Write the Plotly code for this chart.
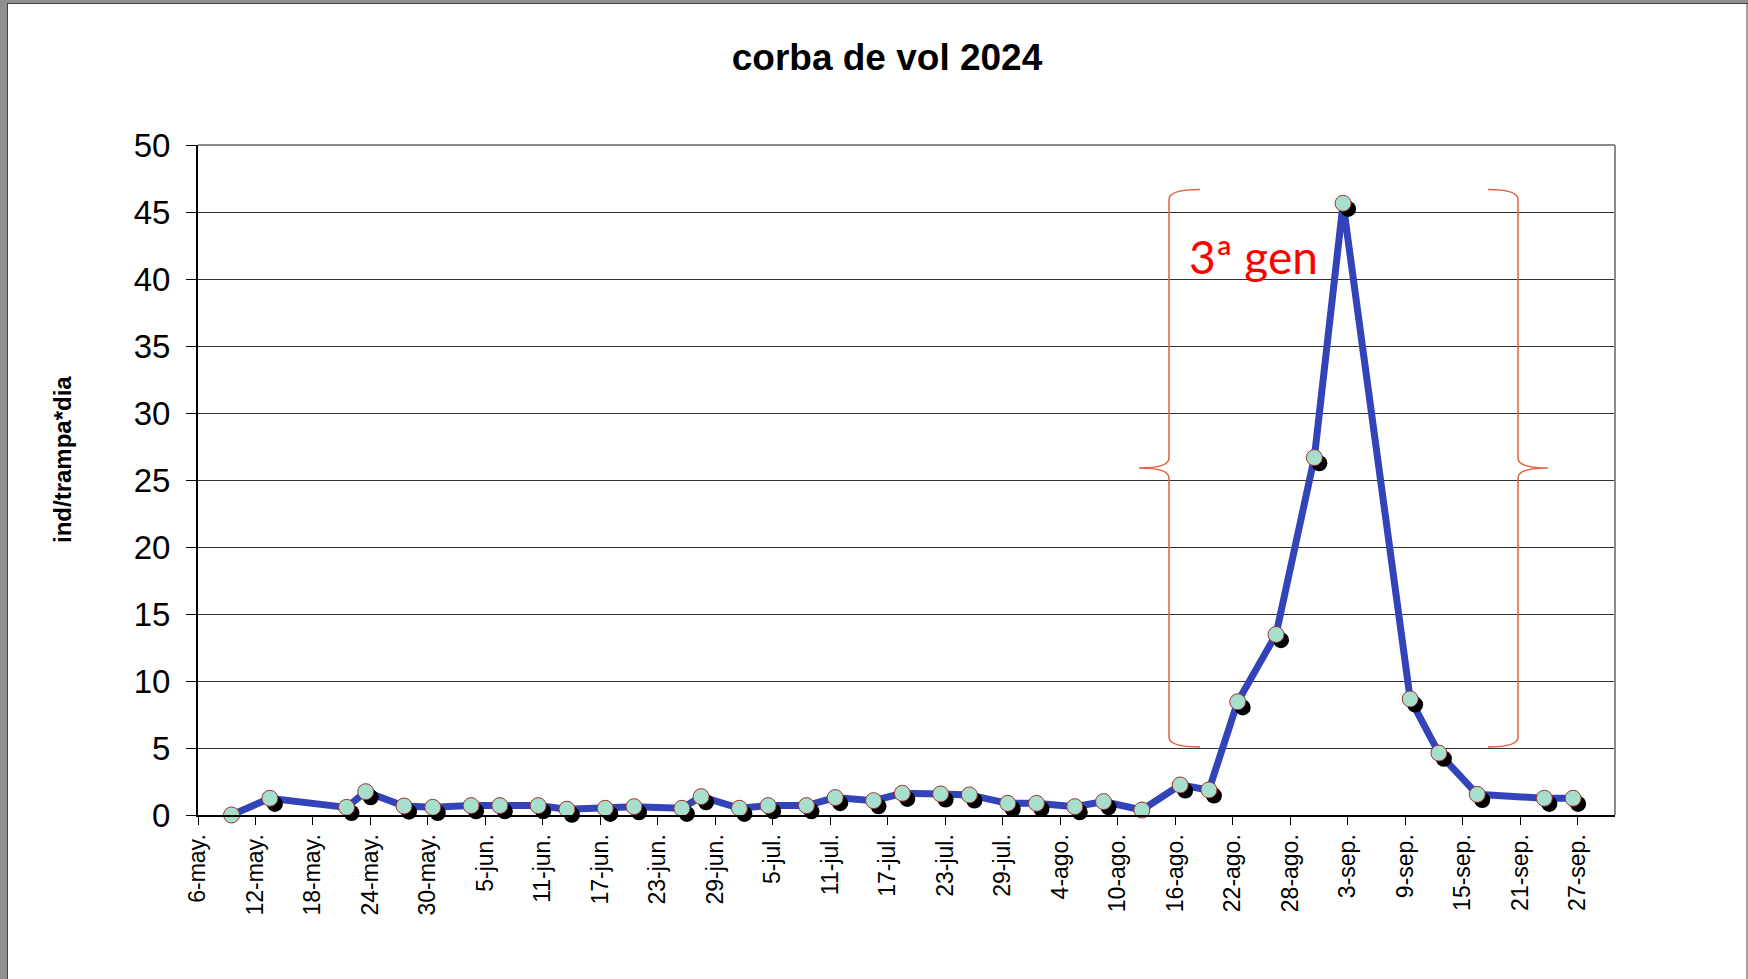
import pandas as pd
import plotly.graph_objects as go

# ── datos ──────────────────────────────────────────
fechas = [
    "2024-05-09", "2024-05-13", "2024-05-21", "2024-05-23", "2024-05-27", "2024-05-30",
    "2024-06-03", "2024-06-06", "2024-06-10", "2024-06-13", "2024-06-17", "2024-06-20",
    "2024-06-25", "2024-06-27", "2024-07-01", "2024-07-04", "2024-07-08", "2024-07-11",
    "2024-07-15", "2024-07-18", "2024-07-22", "2024-07-25", "2024-07-29", "2024-08-01",
    "2024-08-05", "2024-08-08", "2024-08-12", "2024-08-16", "2024-08-19", "2024-08-22",
    "2024-08-26", "2024-08-30", "2024-09-02", "2024-09-09", "2024-09-12", "2024-09-16",
    "2024-09-23", "2024-09-26",
]
capturas = [
    0.0, 1.25, 0.57, 1.74, 0.67, 0.57,
    0.7, 0.7, 0.7, 0.43, 0.5, 0.62,
    0.5, 1.37, 0.5, 0.7, 0.7, 1.3,
    1.07, 1.62, 1.57, 1.5, 0.87, 0.87,
    0.62, 1.0, 0.37, 2.24, 1.87, 8.45,
    13.47, 26.67, 45.65, 8.66, 4.62, 1.54,
    1.25, 1.25,
]
etiquetas_x = [
    "6-may.", "12-may.", "18-may.", "24-may.", "30-may.",
    "5-jun.", "11-jun.", "17-jun.", "23-jun.", "29-jun.",
    "5-jul.", "11-jul.", "17-jul.", "23-jul.", "29-jul.",
    "4-ago.", "10-ago.", "16-ago.", "22-ago.", "28-ago.",
    "3-sep.", "9-sep.", "15-sep.", "21-sep.", "27-sep.",
]
titulo = "corba de vol 2024"
titulo_y = "ind/trampa*dia"
texto_gen = "3ª gen"

# Excel centra cada fecha en su día
x = pd.to_datetime(fechas) + pd.Timedelta(hours=12)
ticks = pd.date_range("2024-05-06", periods=len(etiquetas_x), freq="6D")

# sombra de los marcadores (desplazada abajo a la derecha)
x_sombra = x + pd.Timedelta(hours=12.5)
y_sombra = [v - 0.42 for v in capturas]

# ── geometría en píxeles -> papel ───────────────────
L, R, T, B = 198, 1615, 145, 815
def px(v):
    return (v - L) / (R - L)
def py(v):
    return (B - v) / (B - T)

FUENTE = "Liberation Sans, Arial, sans-serif"

fig = go.Figure()
fig.add_trace(go.Scatter(x=x, y=capturas, mode="lines",
                         line=dict(color="#3344bb", width=7), hoverinfo="skip"))
fig.add_trace(go.Scatter(x=x_sombra, y=y_sombra, mode="markers", cliponaxis=False,
                         marker=dict(size=16, color="black"), hoverinfo="skip"))
fig.add_trace(go.Scatter(x=x, y=capturas, mode="markers", cliponaxis=False,
                         marker=dict(size=16, color="#a6dfcb",
                                     line=dict(color="#a03030", width=1))))


def llave(vx, punta, extremo, arriba, abajo, medio, r=10):
    pts = [
        ("M", [(extremo, arriba)]),
        ("Q", [(vx, arriba), (vx, arriba + r)]),
        ("L", [(vx, medio - r)]),
        ("Q", [(vx, medio), (punta, medio)]),
        ("Q", [(vx, medio), (vx, medio + r)]),
        ("L", [(vx, abajo - r)]),
        ("Q", [(vx, abajo), (extremo, abajo)]),
    ]
    out = []
    for cmd, ps in pts:
        out.append(cmd + " " + " ".join(f"{px(a):.5f},{py(b):.5f}" for a, b in ps))
    return " ".join(out)


shapes = [
    # llaves de la 3ª generación
    dict(type="path", xref="paper", yref="paper",
         path=llave(1169, 1139, 1200, 189.5, 747, 468),
         line=dict(color="#e2623f", width=1.5)),
    dict(type="path", xref="paper", yref="paper",
         path=llave(1518, 1548, 1488, 189.5, 747, 468),
         line=dict(color="#e2623f", width=1.5)),
    # borde gris del área de trazado (arriba y derecha)
    dict(type="line", xref="paper", yref="paper", x0=0, x1=1, y0=1, y1=1,
         line=dict(color="#8a8a8a", width=2), layer="above"),
    dict(type="line", xref="paper", yref="paper", x0=1, x1=1, y0=0, y1=1,
         line=dict(color="#8a8a8a", width=2), layer="above"),
    # marco de la página
    dict(type="rect", xref="paper", yref="paper", x0=px(0), x1=px(7), y0=py(979), y1=py(0),
         fillcolor="#8f8f8f", line=dict(width=0)),
    dict(type="line", xref="paper", yref="paper", x0=px(7.5), x1=px(7.5), y0=py(979), y1=py(0),
         line=dict(color="#444444", width=1)),
    dict(type="rect", xref="paper", yref="paper", x0=px(0), x1=px(1748), y0=py(3), y1=py(0),
         fillcolor="#8f8f8f", line=dict(width=0)),
    dict(type="line", xref="paper", yref="paper", x0=px(7), x1=px(1748), y0=py(3.5), y1=py(3.5),
         line=dict(color="#444444", width=1)),
    dict(type="line", xref="paper", yref="paper", x0=px(1747), x1=px(1747), y0=py(979), y1=py(3),
         line=dict(color="#444444", width=1)),
]

fig.update_layout(
    width=1748, height=979,
    margin=dict(l=L, r=1748 - R, t=T, b=979 - B),
    paper_bgcolor="white", plot_bgcolor="white",
    showlegend=False,
    font=dict(family=FUENTE, color="black"),
    title=dict(text=f"<b>{titulo}</b>", xref="container", yref="container",
               x=887 / 1748, y=1 - 57 / 979, xanchor="center", yanchor="middle",
               font=dict(size=37, family=FUENTE, color="black")),
    xaxis=dict(
        type="date",
        range=["2024-05-06", "2024-09-30 21:00"],
        tickmode="array", tickvals=ticks, ticktext=etiquetas_x,
        tickangle=-90, tickfont=dict(size=23, family=FUENTE, color="black"),
        ticks="outside", ticklen=8, tickcolor="black", tickwidth=1,
        ticklabelstandoff=0,
        showline=True, linecolor="black", linewidth=2,
        showgrid=False, zeroline=False,
    ),
    yaxis=dict(
        range=[0, 50], dtick=5, tick0=0,
        tickfont=dict(size=33, family=FUENTE, color="black"),
        ticks="outside", ticklen=10, tickcolor="black", tickwidth=1,
        ticklabelstandoff=9,
        showline=True, linecolor="black", linewidth=2,
        showgrid=True, gridcolor="#333333", gridwidth=1,
        zeroline=False,
    ),
    shapes=shapes,
    annotations=[
        dict(text=f"<b>{titulo_y}</b>", xref="paper", yref="paper",
             x=px(62), y=py(460), textangle=-90, showarrow=False,
             xanchor="center", yanchor="middle",
             font=dict(size=24, family=FUENTE, color="black")),
        dict(text=texto_gen, xref="paper", yref="paper",
             x=px(1253), y=py(256), showarrow=False,
             xanchor="center", yanchor="middle",
             font=dict(size=46, family="Lato", color="#ff0000")),
    ],
)

# sin margen del <body> para que el gráfico ocupe la ventana exacta
fig.write_html("out.html", config={"displayModeBar": False},
               post_script="document.body.style.margin='0';document.body.style.overflow='hidden';")
